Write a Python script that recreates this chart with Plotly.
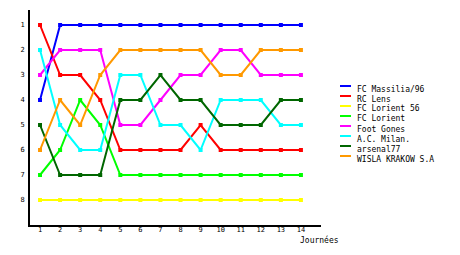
import plotly.graph_objects as go

journees = list(range(1, 15))
teams = ["FC Massilia/96", "RC Lens", "FC Lorient 56", "FC Lorient",
         "Foot Gones", "A.C. Milan.", "arsenal77", "WISLA KRAKOW S.A"]
massilia = [4, 1, 1, 1, 1, 1, 1, 1, 1, 1, 1, 1, 1, 1]
lens = [1, 3, 3, 4, 6, 6, 6, 6, 5, 6, 6, 6, 6, 6]
lorient56 = [8, 8, 8, 8, 8, 8, 8, 8, 8, 8, 8, 8, 8, 8]
lorient = [7, 6, 4, 5, 7, 7, 7, 7, 7, 7, 7, 7, 7, 7]
gones = [3, 2, 2, 2, 5, 5, 4, 3, 3, 2, 2, 3, 3, 3]
milan = [2, 5, 6, 6, 3, 3, 5, 5, 6, 4, 4, 4, 5, 5]
arsenal = [5, 7, 7, 7, 4, 4, 3, 4, 4, 5, 5, 5, 4, 4]
wisla = [6, 4, 5, 3, 2, 2, 2, 2, 2, 3, 3, 2, 2, 2]
series = [massilia, lens, lorient56, lorient, gones, milan, arsenal, wisla]
colors = ["#0000FF", "#FF0000", "#FFFF00", "#00FF00",
          "#FF00FF", "#00FFFF", "#006600", "#FF9900"]
ranks = list(range(1, 9))

W, H = 460, 255
L, R, T, B = 30, 139, 10, 30
PW, PH = W - L - R, H - T - B

FONT = "DejaVu Sans Mono"

fig = go.Figure()
for name, vals, col in zip(teams, series, colors):
    fig.add_trace(go.Scatter(
        x=journees, y=vals, name=name, mode="lines+markers",
        line=dict(color=col, width=2),
        marker=dict(symbol="square", size=4, color=col),
        showlegend=False))

def px_to_paper_x(px):
    return (px - L) / PW

def px_to_paper_y(py):
    return (H - B - py) / PH

shapes = []
annotations = []
for i, (name, col) in enumerate(zip(teams, colors)):
    ly = 86 + 10 * i
    shapes.append(dict(type="line", xref="paper", yref="paper",
                       x0=px_to_paper_x(340), x1=px_to_paper_x(351),
                       y0=px_to_paper_y(ly), y1=px_to_paper_y(ly),
                       line=dict(color=col, width=2)))
    annotations.append(dict(text=name, xref="paper", yref="paper",
                            x=px_to_paper_x(355), y=px_to_paper_y(ly + 3),
                            xanchor="left", yanchor="middle", showarrow=False,
                            font=dict(family=FONT, size=8, color="black")))

annotations.append(dict(text="Journées", xref="paper", yref="paper",
                        x=px_to_paper_x(319), y=px_to_paper_y(240),
                        xanchor="center", yanchor="middle", showarrow=False,
                        font=dict(family=FONT, size=8, color="black")))

fig.update_layout(
    width=W, height=H,
    margin=dict(l=L, r=R, t=T, b=B, pad=0),
    paper_bgcolor="white", plot_bgcolor="white",
    font=dict(family=FONT, size=8, color="black"),
    shapes=shapes, annotations=annotations,
    xaxis=dict(range=[0.5, 15], tickmode="array", tickvals=journees,
               ticktext=[str(j) for j in journees],
               showgrid=False, zeroline=False, showline=True,
               linecolor="black", linewidth=2,
               ticks="", ticklabelstandoff=-3,
               tickfont=dict(family=FONT, size=7, color="black")),
    yaxis=dict(range=[9, 0.4], tickmode="array", tickvals=ranks,
               ticktext=[str(r) for r in ranks],
               showgrid=False, zeroline=False, showline=True,
               linecolor="black", linewidth=2,
               ticks="", ticklabelstandoff=2,
               tickfont=dict(family=FONT, size=7, color="black")),
)

fig.write_html("out.html")
